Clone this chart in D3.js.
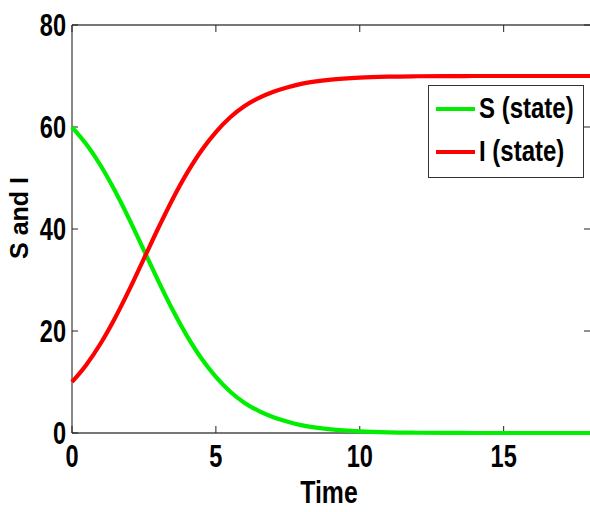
<!DOCTYPE html>
<html>
<head>
<meta charset="utf-8">
<script src="https://cdn.jsdelivr.net/npm/d3@7"></script>
<style>
  html, body { margin: 0; padding: 0; background: #fff; }
  svg { display: block; }
  text { font-family: "Liberation Sans", Arial, Helvetica, sans-serif; font-weight: bold; fill: #000; }
</style>
</head>
<body>
<svg id="chart" width="590" height="512"></svg>
<script>
// Time samples and the two state trajectories of the S–I model
const time = [0, 0.5, 1, 1.5, 2, 2.5, 3, 3.5, 4, 4.5, 5, 5.5, 6, 6.5, 7, 7.5, 8, 9, 10, 11, 12, 13, 14, 15, 16, 17, 18];
const sState = [60, 56.6, 52.4, 47.4, 41.8, 35.8, 29.8, 24.1, 19.0, 14.6, 11.0, 8.1, 5.9, 4.3, 3.1, 2.2, 1.5, 0.7, 0.3, 0.12, 0.05, 0.02, 0, 0, 0, 0, 0];
const iState = [10, 13.4, 17.6, 22.6, 28.2, 34.2, 40.2, 45.9, 51.0, 55.4, 59.0, 61.9, 64.1, 65.7, 66.9, 67.8, 68.5, 69.3, 69.7, 69.88, 69.95, 69.98, 70, 70, 70, 70, 70];

const xTicks = [0, 5, 10, 15];
const yTicks = [0, 20, 40, 60, 80];
const seriesNames = ["S (state)", "I (state)"];
const seriesColors = ["#00ee00", "#ff0000"];

const svg = d3.select("#chart");
const plot = { left: 72, right: 590, top: 25, bottom: 433 };

const x = d3.scaleLinear().domain([0, 18]).range([plot.left, plot.right]);
const y = d3.scaleLinear().domain([0, 80]).range([plot.bottom, plot.top]);

// Condensed bold text: drawn at (px, py) and squeezed horizontally
function label(px, py, str, size, sx, anchor) {
  return svg.append("text")
    .attr("transform", `translate(${px},${py}) scale(${sx},1)`)
    .attr("font-size", size)
    .attr("text-anchor", anchor)
    .text(str);
}

// Frame: left, bottom and top edges
const axisColor = "#4a4a4a";
[[plot.left, plot.left, plot.top, plot.bottom],
 [plot.left, plot.right, plot.bottom, plot.bottom],
 [plot.left, plot.right, plot.top, plot.top]].forEach(([x1, x2, y1, y2]) => {
  svg.append("line").attr("x1", x1).attr("x2", x2).attr("y1", y1).attr("y2", y2)
    .attr("stroke", axisColor).attr("stroke-width", 1.3);
});

// Inward ticks
xTicks.forEach(t => {
  svg.append("line").attr("x1", x(t)).attr("x2", x(t)).attr("y1", plot.bottom).attr("y2", plot.bottom - 7)
    .attr("stroke", "#222").attr("stroke-width", 1);
  svg.append("line").attr("x1", x(t)).attr("x2", x(t)).attr("y1", plot.top).attr("y2", plot.top + 7)
    .attr("stroke", "#222").attr("stroke-width", 1);
});
yTicks.forEach(t => {
  svg.append("line").attr("x1", plot.left).attr("x2", plot.left + 6).attr("y1", y(t)).attr("y2", y(t))
    .attr("stroke", "#222").attr("stroke-width", 1);
  svg.append("line").attr("x1", plot.right).attr("x2", plot.right - 6).attr("y1", y(t)).attr("y2", y(t))
    .attr("stroke", "#222").attr("stroke-width", 1);
});

// Tick labels
xTicks.forEach(t => label(x(t), 467, String(t), 31, 0.76, "middle"));
yTicks.forEach(t => label(66, y(t) + 11, String(t), 31, 0.76, "end"));

// Axis titles
label(329, 503, "Time", 31, 0.8, "middle");
svg.append("text").attr("font-size", 25)
  .attr("transform", "translate(28,218) rotate(-90)").attr("text-anchor", "middle").text("S and I");

// Curves
const line = d3.line().x((d, i) => x(time[i])).y(d => y(d)).curve(d3.curveMonotoneX);
[sState, iState].forEach((vals, k) => {
  svg.append("path").datum(vals).attr("d", line)
    .attr("fill", "none").attr("stroke", seriesColors[k]).attr("stroke-width", 4.2)
    .attr("stroke-linejoin", "round");
});

// Legend
svg.append("rect").attr("x", 428.5).attr("y", 85.5).attr("width", 155).attr("height", 92)
  .attr("fill", "#fff").attr("stroke", "#333").attr("stroke-width", 1);
seriesNames.forEach((name, k) => {
  const cy = 109 + k * 43;
  svg.append("line").attr("x1", 436).attr("x2", 475).attr("y1", cy).attr("y2", cy)
    .attr("stroke", seriesColors[k]).attr("stroke-width", 4.2);
  label(479, cy + 9, name, 30, 0.8, "start");
});
</script>
</body>
</html>
